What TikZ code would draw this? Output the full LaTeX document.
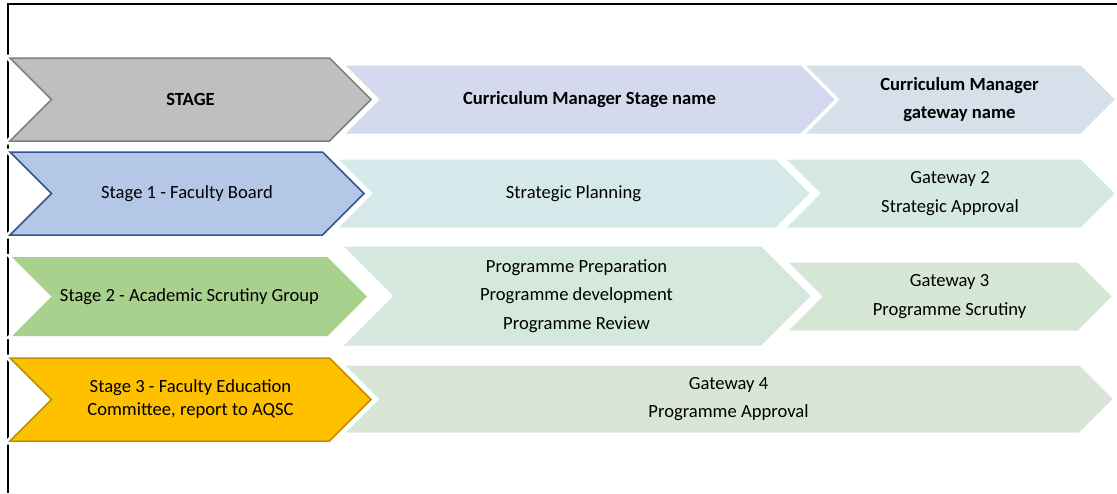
\documentclass[tikz,border=0pt]{standalone}
\usepackage{fontspec}
\setmainfont{Carlito}
\definecolor{stagegray}{HTML}{BFBFBF}
\definecolor{stagegrayline}{HTML}{7F7F7F}
\definecolor{headlav}{HTML}{D5D9EE}
\definecolor{headblue}{HTML}{D5E0EA}
\definecolor{stageblue}{HTML}{B4C7E7}
\definecolor{stageblueline}{HTML}{2F5597}
\definecolor{planblue}{HTML}{D5E8EA}
\definecolor{gatetwo}{HTML}{D5E8E1}
\definecolor{stagegreen}{HTML}{A9D18E}
\definecolor{prepgreen}{HTML}{D5E8DE}
\definecolor{gatethree}{HTML}{D6E7D6}
\definecolor{stageyellow}{HTML}{FFC000}
\definecolor{stageyellowline}{HTML}{BF9000}
\definecolor{gatefour}{HTML}{DAE6D5}
\tikzset{
    chevtext/.style={
                align=center,
                inner sep=0pt,
                font=\fontsize{18.6}{28.5}\selectfont
            },
        flowchev/.style={
                fill=#1,
                draw=white,
                line width=3pt
            },
        stagechev/.style 2 args={
                fill=#1,
                draw=#2,
                line width=1.5pt,
                preaction={draw=white, line width=7pt}
            },
        plainchev/.style={
                fill=#1,
                preaction={draw=white, line width=6pt}
            },
}
% chevron: [node options]{name}{style}{left}{tip}{top}{bottom}{text}
\newcommand{\chevron}[8][]{%
  \pgfmathsetmacro\chevdepth{(#7-#6)/2}
  \path[#3] (#4,#6) -- (#5-\chevdepth,#6) -- (#5,#6+\chevdepth)
    -- (#5-\chevdepth,#7) -- (#4,#7) -- (#4+\chevdepth,#6+\chevdepth) -- cycle;
  \node[chevtext,#1] (#2) at ({(#4+#5)/2},{(#6+#7)/2}) {#8};
}
\begin{document}
\begin{tikzpicture}[x=1pt,y=-1pt]
\useasboundingbox (0,0) rectangle (1117,493);
% Frame
\draw[line width=1.5pt] (8,493) |- (1117,4);
% Header row
\chevron{headgate}{flowchev=headblue}{802}{1117}{64}{135}{\bfseries Curriculum Manager\\\bfseries gateway name}
\chevron{headstage}{flowchev=headlav}{342}{837}{64}{135}{\bfseries Curriculum Manager Stage name}
\chevron{head}{stagechev={stagegray}{stagegrayline}}{10}{371}{58}{141}{\bfseries STAGE}
% Stage 1
\chevron{gatetwo}{flowchev=gatetwo}{783}{1117}{158}{229}{Gateway 2\\Strategic Approval}
\chevron{planning}{flowchev=planblue}{335}{812}{158}{229}{Strategic Planning}
\chevron{stageone}{stagechev={stageblue}{stageblueline}}{10}{364}{152}{235}{Stage 1 - Faculty Board}
% Stage 2
\chevron{gatethree}{flowchev=gatethree}{785}{1114}{261}{332}{Gateway 3\\Programme Scrutiny}
\chevron{preparation}{flowchev=prepgreen}{340}{813}{245}{347}{Programme Preparation\\Programme development\\Programme Review}
\chevron{stagetwo}{plainchev=stagegreen}{12}{367}{257}{336}{Stage 2 - Academic Scrutiny Group}
% Stage 3
\chevron{gatefour}{flowchev=gatefour}{342}{1115}{364}{434}{Gateway 4\\Programme Approval}
\chevron[font=\fontsize{18.6}{23}\selectfont]{stagethree}{stagechev={stageyellow}{stageyellowline}}{10}{371}{358}{441}{Stage 3 - Faculty Education\\Committee, report to AQSC}
\end{tikzpicture}
\end{document}
